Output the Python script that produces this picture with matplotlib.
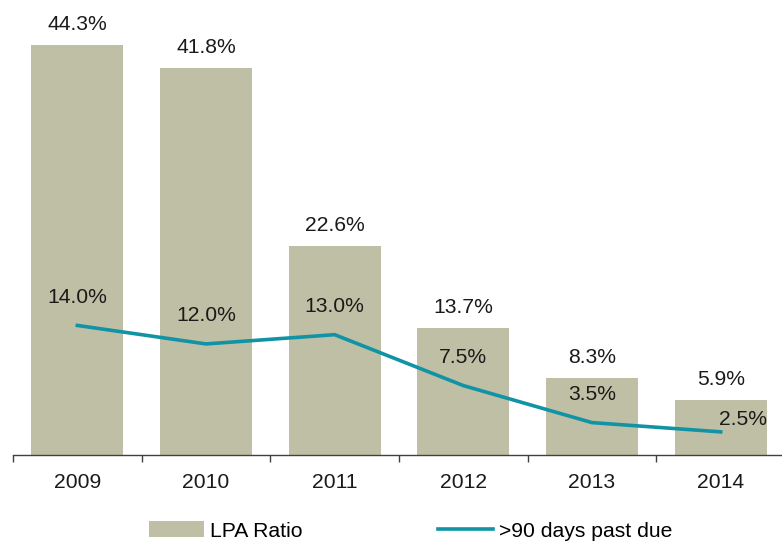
import matplotlib
matplotlib.use("Agg")
import matplotlib.pyplot as plt
import numpy as np

years = ["2009", "2010", "2011", "2012", "2013", "2014"]
lpa_ratio = [44.3, 41.8, 22.6, 13.7, 8.3, 5.9]
past_due = [14.0, 12.0, 13.0, 7.5, 3.5, 2.5]

plt.rcParams['font.family'] = ['Liberation Sans', 'DejaVu Sans']

bar_col = '#BFBFA5'
line_col = '#1193A6'
fs = 15.2

fig = plt.figure(figsize=(7.82, 5.43), dpi=100)
ax = fig.add_axes([13 / 782, 88 / 543, 772 / 782, 455 / 543])

x = np.arange(len(years))
bars = ax.bar(x, lpa_ratio, width=0.715, color=bar_col, label='LPA Ratio', zorder=1)
line, = ax.plot(x, past_due, color=line_col, lw=2.6, label='>90 days past due', zorder=3)

# bar labels
for xi, v in zip(x, lpa_ratio):
    ax.annotate(f"{v:.1f}%", (xi, v), xytext=(0, 10.8), textcoords='offset points',
                ha='center', va='baseline', fontsize=fs, color='#1a1a1a')

# line labels, last one pushed to the right
for i, (xi, v) in enumerate(zip(x, past_due)):
    off = (0, 16.2)
    if i == len(x) - 1:
        off = (15.8, 4.8)
    ax.annotate(f"{v:.1f}%", (xi, v), xytext=off, textcoords='offset points',
                ha='center', va='baseline', fontsize=fs, color='#1a1a1a', zorder=4)

ax.set_xlim(-0.5, 5.5)
ax.set_ylim(0, 49.16)
ax.set_xticks(x)
ax.set_xticklabels(years, fontsize=fs, color='#1a1a1a')
ax.set_xticks(np.arange(-0.5, 6, 1), minor=True)
ax.tick_params(axis='x', which='major', length=0, pad=13)
ax.tick_params(axis='x', which='minor', length=5, width=1, color='#404040')
ax.set_yticks([])
for s in ['left', 'right', 'top']:
    ax.spines[s].set_visible(False)
ax.spines['bottom'].set_color('#404040')
ax.spines['bottom'].set_linewidth(1)

fig.legend([bars, line], ['LPA Ratio', '>90 days past due'],
           loc='center', bbox_to_anchor=(0.525, 12 / 543), ncol=2, frameon=False,
           fontsize=fs, handlelength=2.6, handletextpad=0.3, columnspacing=6.4,
           handleheight=0.8)

fig.savefig('out.png', dpi=100)
